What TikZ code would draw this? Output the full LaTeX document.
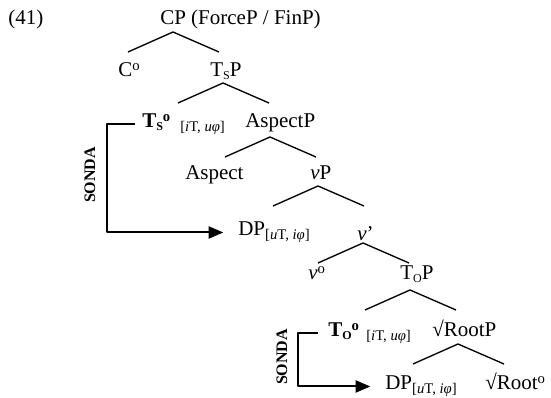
\documentclass[tikz,border=0pt]{standalone}
\usepackage{fontspec}
\setmainfont{Liberation Serif}
\usetikzlibrary{arrows.meta}
\newcommand{\lo}[1]{\raisebox{-0.3ex}{\fontsize{9}{10}\selectfont #1}}
\newcommand{\hi}[1]{\textsuperscript{#1}}
\newcommand{\feat}[2]{\textsubscript{[\textit{#1}T, \textit{#2φ}]}}
\begin{document}
\begin{tikzpicture}[x=0.75pt,y=-0.75pt,line join=round,
    lbl/.style={anchor=base west,inner sep=0pt,font=\fontsize{15.75}{19}\selectfont},
    sonda/.style={rotate=90,inner sep=0pt,font=\fontsize{12}{14}\selectfont\bfseries},
    branch/.style={line width=1pt},
    probe/.style={line width=1.5pt,-{Triangle[length=11pt,width=9pt]},shorten >=11pt}]
  \useasboundingbox (0,0) rectangle (551,398);
  % labels
  \node[lbl] (ex) at (8,25) {(41)};
  \node[lbl] (cp) at (160,25) {CP (ForceP / FinP)};
  \node[lbl] (c) at (118,77) {C\hi{o}};
  \node[lbl] (tsp) at (210,77) {T\lo{S}P};
  \node[lbl] (ts) at (142,128) {\textbf{T\lo{S}\hi{o}}\hspace{7pt}\feat{i}{u}};
  \node[lbl] (aspp) at (245,128) {AspectP};
  \node[lbl] (asp) at (185,180) {Aspect};
  \node[lbl] (vp) at (310,180) {\textit{v}P};
  \node[lbl] (dpa) at (238,236) {DP\feat{u}{i}};
  \node[lbl] (vbar) at (357,241) {\textit{v}’};
  \node[lbl] (v) at (308,280) {\textit{v}\hi{o}};
  \node[lbl] (top) at (400,280) {T\lo{O}P};
  \node[lbl] (to) at (328,337) {\textbf{T\lo{O}\hi{o}}\hspace{5pt}\feat{i}{u}};
  \node[lbl] (rootp) at (432,337) {√RootP};
  \node[lbl] (dpb) at (385,390) {DP\feat{u}{i}};
  \node[lbl] (root) at (485,390) {√Root\hi{o}};
  % branches
  \foreach \p/\ax/\ay in {cp/173/32,tsp/223/83,aspp/270/137,vp/318/186,vbar/363/243,top/410/290,rootp/458/344}{
    \coordinate (\p-fork) at (\ax,\ay);
    \draw[branch] (\p-fork) -- ++(-45,20) (\p-fork) -- ++(46,20);
  }
  % probes
  \draw[probe] ([xshift=-5.25pt]ts.west) -- ++(-28,0) |- (dpa.west);
  \draw[probe] ([xshift=-7.5pt]to.west) -- ++(-20,0) |- (dpb.west);
  \node[sonda] (sondaA) at (90,175) {SONDA};
  \node[sonda] (sondaB) at (282,357) {SONDA};
\end{tikzpicture}
\end{document}
